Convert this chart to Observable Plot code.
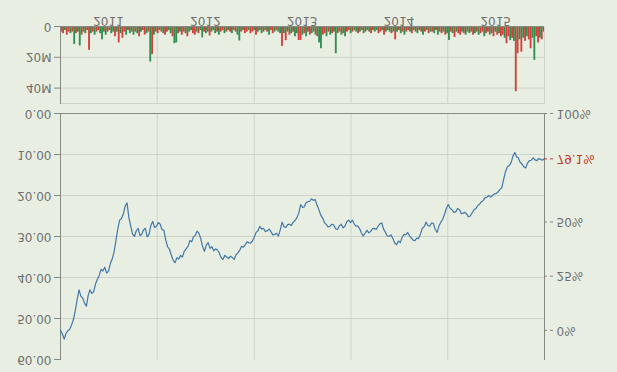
<!DOCTYPE html>
<html><head><meta charset="utf-8">
<script src="https://cdn.jsdelivr.net/npm/d3@7"></script>
<script src="https://cdn.jsdelivr.net/npm/@observablehq/plot@0.6"></script>
<style>
html,body{margin:0;padding:0;background:#e8eee2;}
#chart{width:617px;height:372px;transform:scaleY(-1);transform-origin:50% 50%;overflow:hidden;}
#chart svg{display:block;}
</style></head><body><div id="chart"></div>
<script>
const startDate = "2011-01-01", endDate = "2016-01-01";
// weekly closing price
const prices = [52.9, 53.8, 55, 53.6, 53, 52.6, 51.5, 50.2, 48, 45.3, 43, 44.6, 45, 46.3, 47, 44.5, 43, 43.9, 43.5, 41.6,
40.5, 39.5, 38, 38.4, 37.5, 38.9, 38.5, 36.6, 35.5, 33.8, 31, 28.2, 26, 25.6, 24.5, 22.6, 21.8, 25.4, 27.5, 29.4,
30, 28.6, 28, 29.8, 29.5, 28.4, 28, 30.1, 29.5, 27.3, 26.3, 27.8, 27.5, 26.6, 27, 28.3, 28.5, 30.8, 32.5, 33.1,
34.5, 35.8, 36.4, 35.2, 35.5, 34.6, 35, 33.6, 33, 32.4, 31, 31.3, 30, 29.8, 28.7, 29.2, 30.5, 32.4, 33.6, 32.1,
31.5, 32.9, 32.5, 33.5, 33, 33.3, 34, 35.2, 35.6, 34.6, 35, 35.4, 34.8, 35.1, 35.6, 34.5, 34, 33.4, 32.4, 32.6,
32, 31.3, 31.5, 31.6, 31.1, 30.2, 29, 28.6, 27.5, 28.2, 28, 28.8, 28.6, 28.2, 28.8, 29.6, 29.5, 29.2, 29.9, 28.4,
26.5, 27.6, 27.8, 27.1, 27, 27.3, 26.5, 26.1, 25.4, 24.3, 22.2, 22.9, 22.8, 21.8, 21.5, 21.4, 20.8, 21.2, 21, 22.4,
23.5, 24.8, 25.5, 26.6, 27.1, 27.7, 27.5, 27.0, 27.2, 28.1, 28.3, 27.4, 27, 27.9, 27.5, 26.4, 26, 26.6, 26, 26.9,
27.5, 27.4, 28, 29.1, 29.9, 29.2, 28.5, 29.1, 28.8, 28.1, 28, 28.3, 27.5, 26.9, 26.7, 28.2, 29, 29.8, 30, 29.6,
30.5, 31.6, 32, 31.1, 31.5, 30.2, 29.5, 29.6, 29, 29.9, 30.3, 30.9, 31, 30.4, 30.5, 29.4, 28, 27.6, 26.5, 27.3,
27.5, 26.7, 26.8, 28.3, 29, 27.4, 26.5, 25.8, 24.5, 23.1, 22.2, 23.1, 23.5, 24.1, 24, 23.2, 23.5, 24.4, 24.3, 24.1,
24.5, 25.2, 25, 24.2, 23.5, 23.2, 22.5, 22.1, 21.5, 21.2, 20.5, 20.4, 20, 20.4, 20, 19.6, 19.5, 19.1, 18.5, 18.1,
16, 14.2, 13, 12.7, 12, 10.4, 9.5, 10.6, 10.8, 11.9, 12.3, 13.0, 13.3, 12.1, 11.5, 11.4, 10.8, 11.3, 11.5, 11.0,
11.2, 11.4, 11.06];
// weekly volume, millions
const volumes = [3,4,2,5,3,4,3,11,4,3, 12,5,3,4,2,14.8,4,3,5,3,
2,4,8,3,5,3,2,4,3,6, 3,10,4,7,3,5,2,4,3,5,
3,4,6,3,2,5,4,3,22.4,17.6, 5,3,4,2,3,4,5,3,2,4,
6,10.5,10,4,3,5,3,4,6,3, 2,4,5,3,4,2,6.7,3,4,3,
5.5,3,2,4,3,5,3,2,4,3, 2,3,4,2,3,5,8.8,3,2,4,
3,2,4,3,2,5,3,2,4,3, 2,3,5,2,4,3,2,3,4,12.3,
4,8.5,3,5,4,3,6,4,8.4,8.4, 5,4,6,3,5,4,3,5,6,10,
13.8,5,4,6,3,5,4,3,17,4, 3,5,4,6,3,2,4,3,2,3,
4,3,2,4,3,2,3,4,2,3, 2,4,3,2,5,3,2,3,4,3,
8,3,2,4,3,5,3,2,3,4, 2,3,4,2,3,5,3,2,4,3,
3,4,2,5,3,4,3,5,4,8.4, 3,4,6.5,3,4,5,3,4,5,3,
4,3,5,4,3,5,4,3,6,4, 3,5,4,6,3,5,4,6,5,7,
10.5,6,8.5,7,9,41.7,17,8,16,7, 9,6,8,13.8,7,21.3,6,10,7,8,
3];
const volumeDirs = "grgrrgrgrg"+"grrgrrgrgr"+"rggrgrrggr"+"grgrrgrgrg"+"rgrgrrgrgr"+
"grrgrgrrgg"+"rggrgrrgrg"+"grrgrggrgr"+"rgrgrgrrgr"+"grgrrggrgr"+
"rgrrgrgrgr"+"grgrrgrggr"+"grgrgrggrr"+"grgrrgrgrg"+"grrgrgrggr"+
"rgrgrrgrgg"+"rgrgrggrrg"+"grrgrgrgrg"+"rgrgrgrrgr"+"grgrrgrgrg"+
"rgrgrrgrgg"+"rgrgrrgrgr"+"grrgrgrrgr"+"rgrrgrgrrg"+"rrgrgrrgrg"+
"rgrrggrrgr"+"g";
const yearLabels = [2011, 2012, 2013, 2014, 2015];
const priceTicks = [0, 10, 20, 30, 40, 50, 60];
const pctTicks = [0, 0.25, 0.5, 1];
const volTicks = [0, 20, 40];

const BG = "#e8eee2", GRID = "#cdd3c8", AXIS = "#858a82", TEXT = "#6e6e6e";
const RED = "#d1403a", GREEN = "#2f8f4e", LINE = "#4178aa", LABELRED = "#c0392b";
const W = 617, ML = 60, MR = 73;
const x0 = new Date(startDate), x1 = new Date(endDate);
const nDays = d3.utcDay.count(x0, x1);
const priceData = prices.map((p, i) => ({date: d3.utcDay.offset(x0, Math.round(i * (nDays - 1) / (prices.length - 1))), price: p}));
const yearStarts = yearLabels.slice(1).map(y => new Date(Date.UTC(y, 0, 1)));
const base = prices[0], last = prices[prices.length - 1];
const currentPct = 1 - last / base;
const fmtPct = p => d3.format(".1~f")(p * 100) + "%";
const rightGray = pctTicks.filter(p => Math.abs(p - currentPct) > 0.06).map(p => ({y: base * (1 - p), label: fmtPct(p)}));
const rightRed = [{y: last, label: fmtPct(currentPct)}];
const style = {background: BG, fontFamily: "DejaVu Sans", fontSize: "12px", color: TEXT, overflow: "visible"};

const main = Plot.plot({
  width: W, height: 262, marginTop: 12, marginBottom: 4, marginLeft: ML, marginRight: MR,
  style,
  x: {type: "utc", domain: [x0, x1], axis: null},
  y: {domain: [0, 60], axis: null},
  marks: [
    Plot.ruleY(priceTicks.filter(d => d > 0 && d < 60), {stroke: GRID}),
    Plot.ruleX(yearStarts, {stroke: GRID}),
    Plot.ruleX([x0], {stroke: AXIS}),
    Plot.ruleX([x1], {stroke: AXIS}),
    Plot.ruleY([0], {stroke: AXIS}),
    Plot.tickY(priceTicks, {y: d => d, insetLeft: -6, insetRight: W - ML - MR, stroke: AXIS}),
    Plot.text(priceTicks, {y: d => d, text: d => d3.format(".2f")(d), frameAnchor: "left", textAnchor: "end", dx: -9, fill: TEXT}),
    Plot.line(priceData, {x: "date", y: "price", stroke: LINE, strokeWidth: 1.2}),
    Plot.tickY(rightGray, {y: "y", insetLeft: W - ML - MR, insetRight: -11, stroke: AXIS, strokeDasharray: "3,3"}),
    Plot.text(rightGray, {y: "y", text: "label", frameAnchor: "right", textAnchor: "start", dx: 12, fill: TEXT}),
    Plot.tickY(rightRed, {y: "y", insetLeft: W - ML - MR, insetRight: -11, stroke: LABELRED, strokeDasharray: "3,3"}),
    Plot.text(rightRed, {y: "y", text: "label", frameAnchor: "right", textAnchor: "start", dx: 12, fill: LABELRED})
  ]
});

const w0 = d3.utcWeek.ceil(x0);
const volData = volumes.map((v, i) => {
  const a = d3.utcWeek.offset(w0, i);
  const b = d3.utcWeek.offset(w0, i + 1);
  return {a, b: b > x1 ? x1 : b, vol: v, dir: volumeDirs[i]};
});

const vol = Plot.plot({
  width: W, height: 110, marginTop: 6, marginBottom: 27, marginLeft: ML, marginRight: MR,
  style,
  x: {type: "utc", domain: [x0, x1], axis: null},
  y: {domain: [0, 50], axis: null},
  marks: [
    Plot.ruleY([20, 40, 50], {stroke: GRID}),
    Plot.ruleX(yearStarts, {stroke: GRID}),
    Plot.ruleX([x1], {stroke: GRID}),
    Plot.rectY(volData.filter(d => d.dir === "r"), {x1: "a", x2: "b", y: "vol", fill: RED, inset: 0}),
    Plot.rectY(volData.filter(d => d.dir === "g"), {x1: "a", x2: "b", y: "vol", fill: GREEN, inset: 0}),
    Plot.ruleX([x0], {stroke: AXIS}),
    Plot.ruleY([0], {stroke: AXIS}),
    Plot.tickY(volTicks, {y: d => d, insetLeft: -6, insetRight: W - ML - MR, stroke: AXIS}),
    Plot.text(volTicks, {y: d => d, text: d => d === 0 ? "0" : d + "M", frameAnchor: "left", textAnchor: "end", dx: -9, fill: TEXT}),
    Plot.text(yearLabels, {x: d => new Date(Date.UTC(d, 6, 1)), text: d => String(d), frameAnchor: "bottom", dy: 10, fill: TEXT})
  ]
});

const chart = document.getElementById("chart");
chart.appendChild(main);
chart.appendChild(vol);
</script>
</body></html>
